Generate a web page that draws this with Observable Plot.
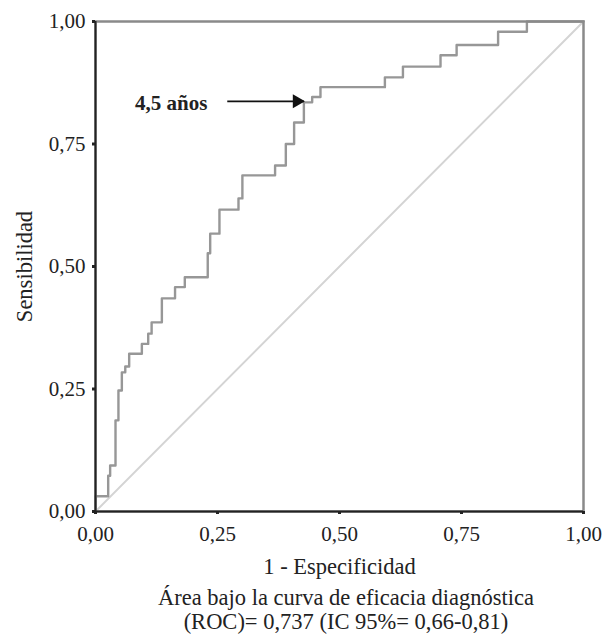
<!DOCTYPE html>
<html>
<head>
<meta charset="utf-8">
<script src="https://cdn.jsdelivr.net/npm/d3@7"></script>
<script src="https://cdn.jsdelivr.net/npm/@observablehq/plot@0.6"></script>
<style>
  body { margin: 0; background: #fff; }
  #chart svg { display: block; }
  .caption {
    width: 602px; box-sizing: border-box; padding-left: 90px;
    text-align: center; font-family: "Liberation Serif", serif;
    font-size: 22.5px; line-height: 24px; color: #222;
  }
</style>
</head>
<body>
<div id="chart"></div>
<script>
// ROC curve vertices (1 - specificity, sensitivity), drawn as a step-after line
const fpr = [0, 0, 0.026, 0.030, 0.041, 0.047, 0.054, 0.061, 0.069, 0.095, 0.108, 0.115, 0.136, 0.163, 0.183, 0.230, 0.235, 0.254, 0.293, 0.301, 0.368, 0.390, 0.407, 0.427, 0.444, 0.461, 0.593, 0.630, 0.707, 0.740, 0.825, 0.884, 1];
const tpr = [0, 0.031, 0.073, 0.094, 0.186, 0.247, 0.284, 0.296, 0.322, 0.342, 0.363, 0.386, 0.435, 0.458, 0.478, 0.527, 0.567, 0.616, 0.639, 0.686, 0.706, 0.750, 0.794, 0.835, 0.846, 0.866, 0.886, 0.908, 0.931, 0.952, 0.979, 1, 1];
const diagonal = [0, 1];
const tickValues = [0, 0.25, 0.5, 0.75, 1];
const xLabel = "1 - Especificidad";
const yLabel = "Sensibilidad";
const annotationText = ["4,5 años"];
const annotationTextX = [0.081];
const annotationTextY = [0.833];
const arrowFromX = [0.270];
const arrowToX = [0.427];
const arrowY = [0.837];
const captionLines = ["Área bajo la curva de eficacia diagnóstica", "(ROC)= 0,737 (IC 95%= 0,66-0,81)"];

const curve = fpr.map((x, i) => ({x, y: tpr[i]}));
const diag = diagonal.map(v => ({x: v, y: v}));
const ann = annotationText.map((t, i) => ({t, x: annotationTextX[i], y: annotationTextY[i]}));
const arr = arrowFromX.map((x1, i) => ({x1, x2: arrowToX[i], y: arrowY[i]}));
const fmt = d => d.toFixed(2).replace(".", ",");

const chart = Plot.plot({
  width: 602,
  height: 586,
  marginLeft: 95,
  marginRight: 19,
  marginTop: 21,
  marginBottom: 75,
  style: {fontFamily: "'Liberation Serif', serif", fontSize: "21px", color: "#222", background: "#fff"},
  x: {domain: [0, 1]},
  y: {domain: [0, 1]},
  marks: [
    Plot.line(diag, {x: "x", y: "y", stroke: "#d4d4d4", strokeWidth: 2}),
    Plot.line(curve, {x: "x", y: "y", curve: "step-after", stroke: "#979797", strokeWidth: 2.4}),
    Plot.frame({stroke: "#8a8a8a", strokeWidth: 2.5}),
    Plot.ruleX([0], {stroke: "#222", strokeWidth: 2}),
    Plot.ruleY([0], {stroke: "#222", strokeWidth: 2}),
    Plot.axisX({ticks: tickValues, tickFormat: fmt, tickSize: 3, strokeWidth: 3, tickPadding: 12,
      label: xLabel, labelAnchor: "center", labelOffset: 62, labelArrow: "none", fontSize: 21}),
    Plot.axisY({ticks: tickValues, tickFormat: fmt, tickSize: 3, strokeWidth: 3, tickPadding: 7,
      label: yLabel, labelAnchor: "center", labelOffset: 79, labelArrow: "none", fontSize: 21}),
    Plot.link(arr, {x1: "x1", x2: "x2", y1: "y", y2: "y", stroke: "#111", strokeWidth: 1.6}),
    Plot.dot(arr, {x: "x2", y: "y", symbol: "triangle", rotate: 90, r: 5.2, dx: -7, fill: "#111", stroke: "none"}),
    Plot.text(ann, {x: "x", y: "y", text: "t", textAnchor: "start", fontWeight: "bold", fontSize: 21, fill: "#222"})
  ]
});
chart.querySelectorAll("g[aria-label='x-axis label'] text, g[aria-label='y-axis label'] text").forEach(t => t.style.fontSize = "22.5px");
document.getElementById("chart").appendChild(chart);
const cap = document.createElement("div");
cap.className = "caption";
captionLines.forEach(l => { const d = document.createElement("div"); d.textContent = l; cap.appendChild(d); });
document.body.appendChild(cap);
</script>
</body>
</html>
